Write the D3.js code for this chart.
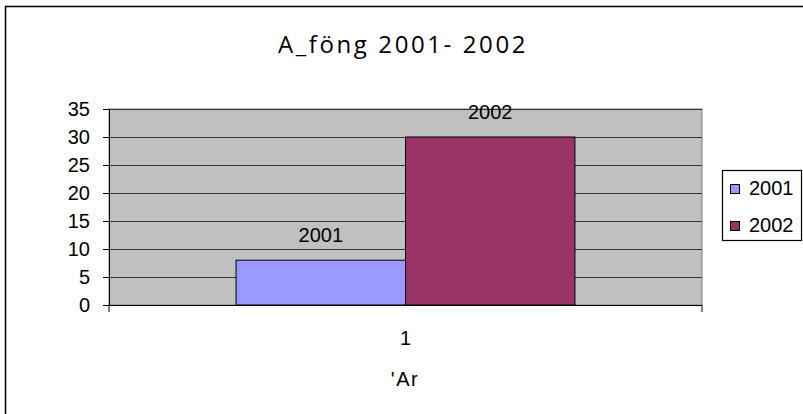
<!DOCTYPE html>
<html>
<head>
<meta charset="utf-8">
<script src="https://cdn.jsdelivr.net/npm/d3@7"></script>
<style>
  body { margin: 0; background: #fff; }
  text { font-family: "Liberation Sans", Arial, sans-serif; fill: #000; }
</style>
</head>
<body>
<div id="chart-container"></div>
<script>
// data
const categories = ['1'];
const seriesNames = ['2001', '2002'];
const seriesValues = [8, 30];
const seriesColors = ['#9999ff', '#993366'];
const yTicks = [0, 5, 10, 15, 20, 25, 30, 35];

const width = 803;
const height = 414;
const plot = { left: 109, right: 702, top: 109, bottom: 305 };

const svg = d3.select('#chart-container')
  .append('svg')
  .attr('width', width)
  .attr('height', height);

// outer chart border
svg.append('rect')
  .attr('x', 5.5).attr('y', 6.5)
  .attr('width', 820).attr('height', 430)
  .attr('fill', 'none')
  .attr('stroke', '#000')
  .attr('stroke-width', 1.5);

// scales
const x0 = d3.scaleBand()
  .domain(categories)
  .range([plot.left, plot.right]);
const x1 = d3.scaleBand()
  .domain(seriesNames)
  .range([0, x0.bandwidth()])
  .paddingOuter(0.75);
const y = d3.scaleLinear()
  .domain([0, 35])
  .range([plot.bottom, plot.top]);

// plot background
svg.append('rect')
  .attr('x', plot.left).attr('y', plot.top)
  .attr('width', plot.right - plot.left)
  .attr('height', plot.bottom - plot.top)
  .attr('fill', '#c0c0c0')
  .attr('stroke', '#808080');

// gridlines
svg.append('g')
  .selectAll('line')
  .data(yTicks.filter(d => d > 0))
  .enter().append('line')
  .attr('x1', plot.left).attr('x2', plot.right)
  .attr('y1', d => Math.round(y(d)) + 0.5)
  .attr('y2', d => Math.round(y(d)) + 0.5)
  .attr('stroke', '#333')
  .attr('stroke-width', 1.2);

// bars
svg.selectAll('.bar')
  .data(seriesNames.map((s, i) => ({ name: s, value: seriesValues[i], color: seriesColors[i] })))
  .enter().append('rect')
  .attr('class', 'bar')
  .attr('x', d => x0(categories[0]) + x1(d.name))
  .attr('y', d => y(d.value))
  .attr('width', x1.bandwidth())
  .attr('height', d => y(0) - y(d.value))
  .attr('fill', d => d.color)
  .attr('stroke', '#000')
  .attr('stroke-width', 1);

// bar labels
svg.selectAll('.bar-label')
  .data(seriesNames.map((s, i) => ({ name: s, value: seriesValues[i] })))
  .enter().append('text')
  .attr('class', 'bar-label')
  .attr('x', d => x0(categories[0]) + x1(d.name) + x1.bandwidth() / 2)
  .attr('y', d => y(d.value) - 18)
  .attr('text-anchor', 'middle')
  .attr('font-size', 20)
  .text(d => d.name);

// y axis
const yAxis = d3.axisLeft(y).tickValues(yTicks).tickSize(6).tickPadding(13);
const yg = svg.append('g')
  .attr('transform', `translate(${plot.left},0)`)
  .call(yAxis);
yg.select('.domain').attr('stroke', '#000');
yg.selectAll('.tick line').attr('stroke', '#000');
yg.selectAll('.tick text')
  .attr('font-size', 20)
  .attr('font-family', '"Liberation Sans", Arial, sans-serif')
  .attr('fill', '#000');

// x axis
svg.append('line')
  .attr('x1', plot.left).attr('x2', plot.right)
  .attr('y1', plot.bottom + 0.5).attr('y2', plot.bottom + 0.5)
  .attr('stroke', '#000');
svg.append('g')
  .selectAll('line')
  .data([plot.left, plot.right])
  .enter().append('line')
  .attr('x1', d => d).attr('x2', d => d)
  .attr('y1', plot.bottom).attr('y2', plot.bottom + 7)
  .attr('stroke', '#000');
svg.selectAll('.x-label')
  .data(categories)
  .enter().append('text')
  .attr('class', 'x-label')
  .attr('x', d => x0(d) + x0.bandwidth() / 2)
  .attr('y', 345)
  .attr('text-anchor', 'middle')
  .attr('font-size', 20)
  .text(d => d);

// axis title
svg.append('text')
  .attr('x', 405)
  .attr('y', 386)
  .attr('text-anchor', 'middle')
  .attr('font-size', 20)
  .attr('letter-spacing', 1.5)
  .text("'Ar");

// chart title
svg.append('text')
  .attr('x', 403)
  .attr('y', 53)
  .attr('text-anchor', 'middle')
  .attr('font-size', 24)
  .attr('letter-spacing', 2.6)
  .style('font-family', '"Open Sans", "DejaVu Sans", sans-serif')
  .text('A_föng 2001- 2002');

// legend
const legend = svg.append('g');
legend.append('rect')
  .attr('x', 722.5).attr('y', 170.5)
  .attr('width', 79).attr('height', 70)
  .attr('fill', '#fff')
  .attr('stroke', '#000')
  .attr('stroke-width', 1.2);
const items = legend.selectAll('.item')
  .data(seriesNames)
  .enter().append('g')
  .attr('transform', (d, i) => `translate(730,${184 + i * 37})`);
items.append('rect')
  .attr('x', 0.5).attr('y', 0.5)
  .attr('width', 9).attr('height', 9)
  .attr('fill', (d, i) => seriesColors[i])
  .attr('stroke', '#000');
items.append('text')
  .attr('x', 19)
  .attr('y', 11)
  .attr('font-size', 20)
  .text(d => d);
</script>
</body>
</html>
